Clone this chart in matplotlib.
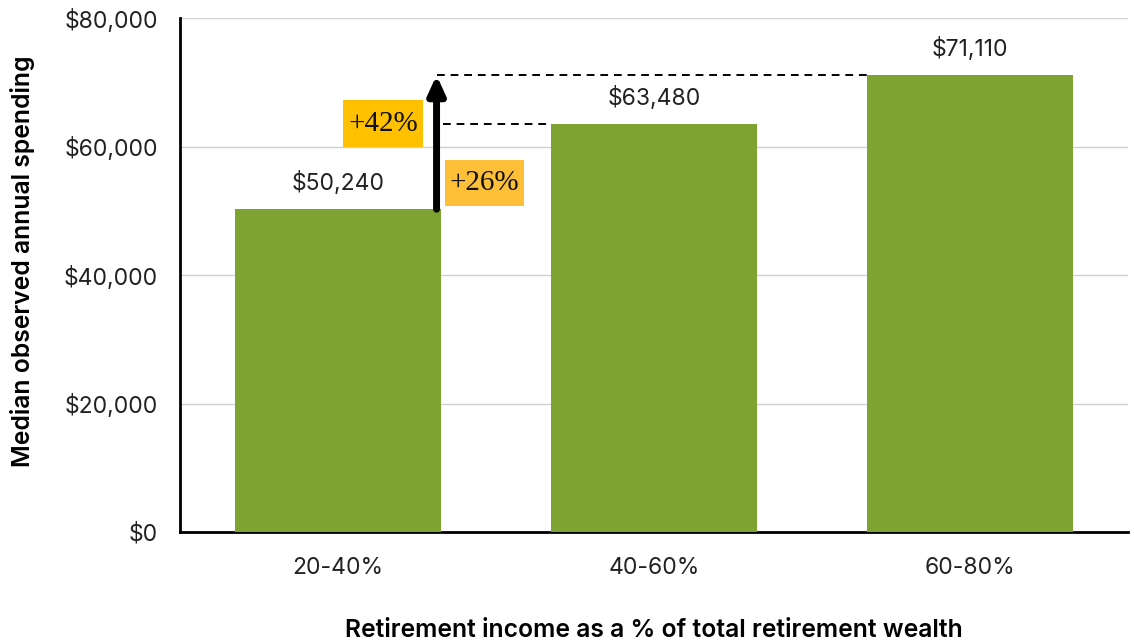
import matplotlib.pyplot as plt
import numpy as np

categories = ['20-40%', '40-60%', '60-80%']
spending = [50240, 63480, 71110]
value_labels = ['$50,240', '$63,480', '$71,110']
yticks = [0, 20000, 40000, 60000, 80000]
ytick_labels = ['$0', '$20,000', '$40,000', '$60,000', '$80,000']
pct_labels = ['+42%', '+26%']

plt.rcParams['font.family'] = ['Inter', 'DejaVu Sans']

fig = plt.figure(figsize=(11.34, 6.44), dpi=100)
ax = fig.add_axes([0.1587, 0.1739, 0.836, 0.7981])

x = np.arange(len(categories))
ax.bar(x, spending, width=0.65, color='#7FA332', zorder=3)

for xi, v, lab in zip(x, spending, value_labels):
    ax.annotate(lab, (xi, v), xytext=(0, 10), textcoords='offset points',
                ha='center', va='bottom', fontsize=16.5, color='#222222')

ax.set_xlim(-0.5, 2.5)
ax.set_ylim(0, 80000)
ax.set_yticks(yticks)
ax.set_yticklabels(ytick_labels)
ax.set_xticks(x)
ax.set_xticklabels(categories)
ax.tick_params(axis='both', length=0, labelsize=16.5, colors='#222222')
ax.tick_params(axis='y', pad=16)
ax.tick_params(axis='x', pad=18)
ax.yaxis.grid(True, color='#d0d0d0', linewidth=1, zorder=0)
ax.set_axisbelow(True)

for s in ['top', 'right']:
    ax.spines[s].set_visible(False)
for s in ['left', 'bottom']:
    ax.spines[s].set_linewidth(2)
    ax.spines[s].set_color('black')

ax.set_ylabel('Median observed annual spending', fontsize=17.8, fontweight='semibold')
ax.yaxis.set_label_coords(-0.153, 0.526)
ax.set_xlabel('Retirement income as a % of total retirement wealth', fontsize=17.8,
              fontweight='semibold', labelpad=29)

# growth arrow from bar 1 up to bar 3 level
ax_x = 0.312
ax.annotate('', xy=(ax_x, spending[2]), xytext=(ax_x, spending[0]),
            arrowprops=dict(arrowstyle='-|>,head_width=0.5,head_length=1.1',
                            color='black', lw=5, shrinkA=0, shrinkB=0), zorder=5)

ax.plot([ax_x, x[2] - 0.325], [spending[2], spending[2]], ls=(0, (4, 3)), color='black', lw=1.4, zorder=4)
ax.plot([ax_x + 0.02, x[1] - 0.325], [spending[1], spending[1]], ls=(0, (4, 3)), color='black', lw=1.4, zorder=4)

ax.text(0.143, 63580, pct_labels[0], family=['Liberation Serif', 'DejaVu Serif'], fontsize=21,
        ha='center', va='center', zorder=6, color='#111111',
        bbox=dict(boxstyle='square,pad=0.17', mutation_aspect=2.1, fc='#FFC000', ec='none'))
ax.text(0.464, 54320, pct_labels[1], family=['Liberation Serif', 'DejaVu Serif'], fontsize=21,
        ha='center', va='center', zorder=6, color='#111111',
        bbox=dict(boxstyle='square,pad=0.17', mutation_aspect=2.1, fc='#FDBE38', ec='none'))

fig.savefig('out.png', dpi=100)
